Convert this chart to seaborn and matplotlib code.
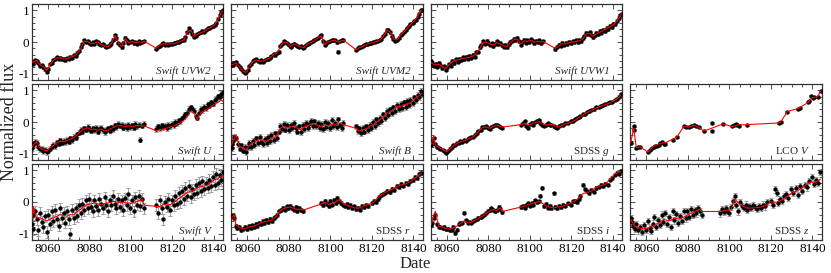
import matplotlib
matplotlib.use("Agg")
import matplotlib.pyplot as plt
import seaborn as sns
from matplotlib.ticker import MultipleLocator

# ---------------- Swift (all bands share the same epochs) ----------------
swift_t = [8052.4, 8052.7, 8052.9, 8053.7, 8054.5, 8055.4, 8056.2, 8056.9, 8057.8, 8058.6,
           8059.4, 8060.1, 8060.9, 8061.9, 8062.6, 8063.4, 8064.2, 8065.2, 8065.9, 8066.7,
           8067.6, 8068.4, 8069.2, 8070.1, 8070.8, 8071.6, 8072.6, 8073.3, 8074.1, 8075.0,
           8075.9, 8076.6, 8077.4, 8078.3, 8079.1, 8079.9, 8080.8, 8081.5, 8082.3, 8083.3,
           8084.1, 8084.8, 8085.6, 8086.6, 8087.3, 8088.1, 8089.0, 8089.8, 8090.6, 8091.5,
           8092.3, 8093.0, 8093.9, 8094.8, 8095.5, 8096.3, 8097.3, 8098.0, 8098.8, 8099.7,
           8100.6, 8101.3, 8102.1, 8103.0, 8103.7, 8104.6, 8105.5, 8106.3,
           8112.3, 8113.1, 8113.9, 8114.9, 8115.6, 8116.4, 8117.3, 8118.1, 8118.9, 8119.8,
           8120.6, 8121.3, 8122.2, 8123.1, 8123.8, 8124.6, 8125.6, 8126.3, 8127.1, 8128.0,
           8128.9, 8129.6, 8130.4, 8131.3, 8132.0, 8132.9, 8133.8, 8134.5, 8135.3, 8136.3,
           8137.1, 8137.8, 8138.6, 8139.6, 8140.3, 8141.1, 8142.0, 8142.8, 8143.6, 8144.2]

swift_mt = [8052.4, 8052.9, 8054.5, 8056.2, 8057.8, 8059.4, 8060.9, 8062.6, 8064.2, 8065.9,
            8067.6, 8069.2, 8070.8, 8072.6, 8074.1, 8075.9, 8077.4, 8079.1, 8080.8, 8082.3,
            8084.1, 8085.6, 8087.3, 8089.0, 8090.6, 8092.3, 8093.9, 8095.5, 8097.3, 8098.8,
            8100.6, 8102.1, 8103.7, 8105.5, 8106.3, 8112.3, 8113.9, 8115.6, 8117.3, 8118.9,
            8120.6, 8122.2, 8123.8, 8125.6, 8127.1, 8128.9, 8130.4, 8132.0, 8133.8, 8135.3,
            8137.1, 8138.6, 8140.3, 8142.0, 8143.6, 8144.2]

uvw2_flux = [-0.63, -0.68, -0.62, -0.57, -0.60, -0.66, -0.75, -0.72, -0.80, -0.86,
             -0.95, -0.84, -0.70, -0.66, -0.56, -0.55, -0.48, -0.53, -0.49, -0.55,
             -0.52, -0.58, -0.50, -0.52, -0.46, -0.49, -0.42, -0.44, -0.33, -0.28,
             -0.15, -0.06, 0.05, 0.01, 0.04, -0.02, -0.07, -0.01, -0.05, 0.03,
             0.00, -0.05, -0.10, -0.07, -0.13, -0.16, -0.14, -0.08, -0.04, 0.08,
             0.22, 0.12, -0.03, -0.10, -0.17, -0.02, 0.14, 0.06, -0.03, 0.01,
             0.03, -0.04, -0.01, -0.05, 0.02, -0.02, 0.00, 0.04,
             -0.21, -0.16, -0.11, -0.07, -0.04, -0.08, -0.06, -0.09, -0.05, -0.07,
             -0.04, -0.03, -0.01, 0.00, 0.03, 0.05, 0.08, 0.15, 0.31, 0.43,
             0.36, 0.25, 0.17, 0.19, 0.25, 0.28, 0.31, 0.36, 0.33, 0.39,
             0.44, 0.43, 0.47, 0.50, 0.55, 0.60, 0.74, 0.86, 0.95, 1.00]
uvw2_model = [-0.62, -0.64, -0.58, -0.72, -0.78, -0.90, -0.72, -0.58, -0.50, -0.50,
              -0.54, -0.53, -0.48, -0.44, -0.36, -0.18, 0.03, 0.02, -0.05, -0.04,
              0.01, -0.08, -0.12, -0.15, -0.05, 0.20, -0.02, -0.15, 0.12, -0.02,
              0.02, -0.02, 0.01, -0.01, 0.03, -0.20, -0.10, -0.05, -0.07, -0.06,
              -0.05, -0.02, 0.02, 0.07, 0.30, 0.38, 0.18, 0.24, 0.30, 0.33,
              0.42, 0.46, 0.54, 0.72, 0.94, 0.98]
uvw2_err = 0.04

uvm2_flux = [-0.70, -0.74, -0.71, -0.66, -0.64, -0.72, -0.79, -0.85, -0.93, -0.98,
             -0.95, -0.88, -0.76, -0.70, -0.61, -0.58, -0.54, -0.59, -0.62, -0.57,
             -0.62, -0.56, -0.53, -0.55, -0.49, -0.45, -0.39, -0.42, -0.35, -0.30,
             -0.13, -0.06, 0.02, -0.01, -0.04, -0.10, -0.15, -0.08, -0.05, -0.09,
             -0.11, -0.16, -0.14, -0.19, -0.17, -0.10, -0.05, -0.04, 0.00, 0.03,
             0.06, 0.10, 0.13, 0.18, 0.21, 0.02, -0.09, -0.04, 0.01, 0.03,
             0.05, 0.07, 0.05, -0.01, -0.30, 0.03, 0.05, 0.07,
             -0.25, -0.20, -0.17, -0.15, -0.12, -0.10, -0.07, -0.06, -0.03, -0.04,
             -0.01, 0.01, 0.03, 0.04, 0.07, 0.10, 0.19, 0.27, 0.39, 0.37,
             0.31, 0.20, 0.09, 0.03, 0.07, 0.14, 0.23, 0.27, 0.33, 0.38,
             0.45, 0.50, 0.56, 0.60, 0.66, 0.71, 0.80, 0.90, 1.01, 1.00]
uvm2_model = [-0.70, -0.72, -0.66, -0.78, -0.92, -0.96, -0.78, -0.62, -0.56, -0.60,
              -0.60, -0.55, -0.50, -0.40, -0.36, -0.15, 0.00, -0.02, -0.14, -0.06,
              -0.10, -0.15, -0.18, -0.06, -0.02, 0.05, 0.12, 0.20, -0.08, 0.00,
              0.04, 0.06, 0.00, 0.04, 0.06, -0.24, -0.18, -0.14, -0.08, -0.04,
              -0.02, 0.02, 0.06, 0.18, 0.38, 0.32, 0.10, 0.06, 0.22, 0.32,
              0.44, 0.55, 0.66, 0.80, 1.00, 1.00]
uvm2_err = 0.04

uvw1_flux = [-0.60, -0.70, -0.65, -0.75, -0.68, -0.78, -0.66, -0.74, -0.82, -0.76,
             -0.88, -0.80, -0.70, -0.75, -0.60, -0.66, -0.55, -0.62, -0.52, -0.58,
             -0.48, -0.55, -0.46, -0.52, -0.44, -0.50, -0.40, -0.46, -0.32, -0.30,
             -0.16, -0.10, 0.02, -0.05, 0.04, -0.03, -0.09, -0.04, -0.13, -0.06,
             0.02, -0.07, -0.02, -0.10, -0.15, -0.09, -0.17, -0.06, 0.00, 0.04,
             0.10, 0.05, 0.13, 0.02, -0.08, 0.00, 0.07, -0.02, 0.05, 0.00,
             0.09, 0.03, -0.03, 0.04, 0.00, 0.05, -0.03, 0.03,
             -0.22, -0.15, -0.09, -0.12, -0.02, -0.08, -0.03, -0.07, 0.01, -0.04,
             0.03, -0.01, 0.05, 0.00, 0.07, 0.03, 0.12, 0.18, 0.29, 0.24,
             0.31, 0.22, 0.15, 0.22, 0.29, 0.24, 0.35, 0.30, 0.39, 0.34,
             0.46, 0.41, 0.52, 0.47, 0.58, 0.56, 0.68, 0.76, 0.85, 0.90]
uvw1_model = [-0.64, -0.68, -0.72, -0.70, -0.78, -0.84, -0.72, -0.62, -0.58, -0.55,
              -0.52, -0.50, -0.48, -0.44, -0.36, -0.20, -0.02, 0.00, -0.06, -0.10,
              -0.02, -0.06, -0.12, -0.14, -0.02, 0.08, 0.10, -0.06, 0.04, 0.02,
              0.06, 0.00, 0.02, 0.00, 0.02, -0.20, -0.12, -0.05, -0.06, -0.02,
              0.00, 0.02, 0.04, 0.10, 0.26, 0.28, 0.18, 0.26, 0.32, 0.36,
              0.44, 0.48, 0.55, 0.66, 0.82, 0.88]
uvw1_err = 0.05

u_flux = [-0.82, -0.74, -0.70, -0.62, -0.66, -0.80, -0.86, -0.84, -0.92, -0.88,
          -0.96, -0.90, -0.84, -0.78, -0.72, -0.76, -0.64, -0.68, -0.58, -0.66,
          -0.60, -0.64, -0.56, -0.62, -0.52, -0.58, -0.46, -0.50, -0.38, -0.34,
          -0.25, -0.30, -0.20, -0.24, -0.15, -0.22, -0.28, -0.20, -0.26, -0.18,
          -0.30, -0.22, -0.18, -0.26, -0.32, -0.24, -0.20, -0.28, -0.16, -0.22,
          -0.10, -0.16, -0.06, -0.12, -0.08, -0.18, -0.12, -0.20, -0.08, -0.16,
          -0.10, -0.18, -0.06, -0.14, -0.08, -0.56, -0.12, -0.06,
          -0.22, -0.14, -0.20, -0.10, -0.16, -0.12, -0.20, -0.08, -0.14, -0.06,
          -0.10, 0.00, -0.04, 0.06, 0.02, 0.12, 0.18, 0.24, 0.30, 0.42,
          0.46, 0.40, 0.36, 0.20, 0.14, 0.30, 0.42, 0.38, 0.48, 0.44,
          0.56, 0.52, 0.62, 0.58, 0.70, 0.74, 0.82, 0.78, 0.90, 0.94]
u_model = [-0.80, -0.72, -0.62, -0.82, -0.88, -0.92, -0.82, -0.74, -0.66, -0.60,
           -0.62, -0.58, -0.55, -0.48, -0.40, -0.28, -0.22, -0.18, -0.24, -0.22,
           -0.26, -0.22, -0.28, -0.25, -0.20, -0.14, -0.10, -0.12, -0.15, -0.12,
           -0.14, -0.12, -0.10, -0.13, -0.12, -0.28, -0.24, -0.22, -0.19, -0.16,
           -0.12, -0.07, -0.02, 0.06, 0.16, 0.36, 0.30, 0.08, 0.30, 0.36,
           0.42, 0.48, 0.56, 0.62, 0.70, 0.66]
u_err = 0.08

b_flux = [-0.70, -0.82, -0.60, -0.48, -0.52, -0.70, -0.84, -0.74, -0.90, -0.78,
          -0.95, -0.80, -0.66, -0.78, -0.60, -0.72, -0.52, -0.66, -0.48, -0.62,
          -0.70, -0.54, -0.66, -0.48, -0.60, -0.42, -0.56, -0.36, -0.50, -0.30,
          -0.12, -0.22, -0.06, -0.24, -0.10, -0.26, -0.08, -0.20, -0.04, -0.18,
          -0.30, -0.14, -0.32, -0.10, -0.22, -0.02, -0.18, -0.06, 0.04, -0.12,
          0.02, -0.14, -0.04, -0.20, -0.06, -0.22, 0.00, -0.16, -0.04, -0.18,
          0.06, -0.12, -0.02, -0.16, 0.08, -0.08, -0.18, -0.02,
          -0.14, -0.28, -0.20, -0.34, -0.18, -0.30, -0.14, -0.26, -0.08, -0.18,
          0.00, -0.12, 0.08, -0.04, 0.14, 0.02, 0.24, 0.12, 0.34, 0.22,
          0.40, 0.28, 0.46, 0.34, 0.54, 0.42, 0.58, 0.44, 0.62, 0.48,
          0.66, 0.54, 0.70, 0.60, 0.78, 0.70, 0.86, 0.80, 0.98, 0.88]
b_model = [-0.72, -0.62, -0.40, -0.76, -0.82, -0.87, -0.74, -0.66, -0.60, -0.55,
           -0.58, -0.61, -0.55, -0.50, -0.45, -0.20, -0.14, -0.19, -0.15, -0.14,
           -0.20, -0.24, -0.16, -0.13, -0.06, -0.04, -0.12, -0.14, -0.09, -0.12,
           -0.08, -0.10, -0.03, -0.06, -0.08, -0.20, -0.29, -0.24, -0.22, -0.14,
           -0.08, 0.00, 0.07, 0.18, 0.28, 0.33, 0.40, 0.49, 0.50, 0.54,
           0.56, 0.62, 0.72, 0.80, 0.88, 0.90]
b_err = 0.09

v_flux = [-0.70, -0.40, -0.85, -0.30, -0.55, -0.90, -0.35, -0.62, -0.80, -0.45,
          -0.95, -0.40, -0.70, -0.30, -0.60, -0.25, -0.55, -0.75, -0.20, -0.50,
          -0.35, -0.65, -0.30, -0.55, -1.00, -0.25, -0.50, -0.20, -0.45, -0.10,
          -0.35, -0.05, -0.25, 0.05, -0.20, 0.10, -0.15, -0.30, 0.05, -0.12,
          -0.25, 0.10, -0.05, -0.20, 0.15, -0.08, -0.30, 0.05, -0.10, 0.20,
          -0.05, -0.20, 0.10, -0.15, 0.05, -0.25, 0.12, -0.10, 0.25, -0.20,
          0.05, -0.30, 0.15, -0.08, 0.20, -0.12, 0.10, -0.20,
          -0.10, -0.35, 0.05, -0.20, -0.55, 0.00, -0.15, 0.10, -0.25, 0.05,
          -0.10, 0.20, -0.05, 0.30, 0.00, 0.35, 0.10, 0.45, 0.20, 0.50,
          0.15, 0.40, 0.25, 0.55, 0.30, 0.60, 0.35, 0.65, 0.40, 0.60,
          0.45, 0.70, 0.50, 0.80, 0.55, 0.90, 0.60, 0.85, 0.70, 0.95]
v_model = [-0.48, -0.14, -0.50, -0.50, -0.55, -0.60, -0.55, -0.50, -0.46, -0.40,
           -0.43, -0.45, -0.40, -0.40, -0.30, -0.22, -0.14, -0.08, -0.06, -0.03,
           -0.06, -0.08, -0.05, -0.03, 0.00, 0.02, -0.01, -0.03, -0.02, -0.03,
           -0.04, 0.00, 0.04, 0.08, -0.10, -0.14, -0.14, -0.08, -0.10, -0.08,
           -0.02, 0.06, 0.14, 0.23, 0.30, 0.34, 0.38, 0.44, 0.49, 0.50,
           0.54, 0.62, 0.70, 0.74, 0.82, 0.85]
v_err = 0.18

# ---------------- SDSS g r i z (shared epochs) ----------------
sdss_t = [8052.5, 8052.9, 8053.6, 8054.4, 8055.2, 8056.0, 8056.9, 8057.9, 8058.8, 8059.7,
          8060.6, 8061.6, 8062.4, 8063.1, 8063.9, 8064.8, 8065.7, 8066.5, 8067.3, 8068.2,
          8069.1, 8070.0, 8070.8, 8071.8, 8072.7, 8073.5, 8074.4, 8075.2, 8076.2, 8077.1,
          8078.0, 8078.9, 8079.7, 8080.6, 8081.4, 8082.3, 8083.3, 8084.1, 8085.0, 8085.8,
          8086.7,
          8095.7, 8096.5, 8097.5, 8098.3, 8099.1, 8099.9, 8100.9, 8101.7, 8102.5, 8103.3,
          8104.3, 8105.1, 8106.0, 8106.9, 8107.9, 8108.7, 8109.6, 8110.4, 8111.4, 8112.3,
          8113.2, 8114.1, 8115.1, 8116.1, 8117.1, 8118.2,
          8120.0, 8120.9, 8121.9, 8122.8, 8123.6, 8124.4, 8125.4, 8126.4, 8127.4, 8128.5,
          8129.7, 8130.8, 8131.9, 8133.1, 8134.1, 8135.2, 8136.4, 8137.5, 8138.6, 8139.8,
          8140.8, 8141.8, 8142.9, 8143.9]
sdss_mt = [8052.5, 8053.6, 8054.4, 8056.0, 8057.9, 8059.7, 8061.6, 8063.1, 8064.8, 8066.5,
           8068.2, 8070.0, 8071.8, 8073.5, 8075.2, 8077.1, 8078.9, 8080.6, 8082.3, 8084.1,
           8085.8, 8086.7, 8095.7, 8097.5, 8099.1, 8100.9, 8102.5, 8104.3, 8106.0, 8107.9,
           8109.6, 8111.4, 8113.2, 8115.1, 8117.1, 8120.0, 8121.9, 8123.6, 8125.4, 8127.4,
           8129.7, 8131.9, 8134.1, 8136.4, 8138.6, 8140.8, 8142.9, 8143.9]

g_flux = [-0.72, -0.60, -0.50, -0.70, -0.78, -0.82, -0.84, -0.88, -0.90, -0.97,
          -0.92, -0.84, -0.80, -0.74, -0.72, -0.66, -0.66, -0.60, -0.62, -0.58,
          -0.60, -0.53, -0.52, -0.48, -0.47, -0.40, -0.36, -0.28, -0.24, -0.16,
          -0.17, -0.13, -0.19, -0.22, -0.16, -0.12, -0.10, -0.08, -0.13, -0.15,
          -0.18,
          -0.10, -0.04, 0.02, -0.12, -0.18, -0.06, -0.02, -0.08, 0.00, 0.04,
          0.06, -0.04, -0.08, -0.12, -0.08, -0.04, -0.10, -0.08, -0.14, -0.16,
          -0.18, -0.12, -0.10, -0.08, -0.04, -0.02,
          0.02, 0.04, 0.08, 0.12, 0.16, 0.18, 0.24, 0.26, 0.32, 0.34,
          0.38, 0.40, 0.46, 0.48, 0.52, 0.54, 0.56, 0.60, 0.62, 0.64,
          0.70, 0.74, 0.80, 0.88]
g_model = [-0.70, -0.45, -0.72, -0.80, -0.86, -0.95, -0.85, -0.76, -0.68, -0.62,
           -0.60, -0.55, -0.50, -0.42, -0.30, -0.18, -0.15, -0.20, -0.14, -0.10,
           -0.14, -0.16, -0.08, -0.04, -0.10, -0.06, -0.02, 0.02, -0.06, -0.10,
           -0.06, -0.10, -0.16, -0.12, -0.06, 0.00, 0.06, 0.14, 0.22, 0.30,
           0.36, 0.44, 0.50, 0.55, 0.60, 0.68, 0.78, 0.86]
g_err = 0.04

r_flux = [-0.45, -0.42, -0.50, -0.75, -0.82, -0.78, -0.88, -0.84, -0.80, -0.86,
          -0.76, -0.82, -0.74, -0.78, -0.70, -0.76, -0.66, -0.70, -0.60, -0.66,
          -0.58, -0.64, -0.54, -0.60, -0.50, -0.46, -0.40, -0.30, -0.26, -0.18,
          -0.24, -0.14, -0.20, -0.12, -0.18, -0.24, -0.16, -0.28, -0.20, -0.26,
          -0.30,
          -0.02, -0.10, 0.04, -0.06, -0.14, 0.02, -0.08, 0.06, -0.04, 0.12,
          0.04, -0.02, -0.08, -0.12, -0.06, -0.16, -0.10, -0.20, -0.14, -0.22,
          -0.18, -0.24, -0.12, -0.16, -0.08, -0.12,
          -0.02, 0.04, 0.00, 0.10, 0.16, 0.22, 0.26, 0.30, 0.36, 0.32,
          0.42, 0.38, 0.50, 0.46, 0.56, 0.52, 0.60, 0.56, 0.66, 0.70,
          0.80, 0.76, 0.88, 0.92]
r_model = [-0.50, -0.40, -0.72, -0.80, -0.86, -0.82, -0.78, -0.76, -0.72, -0.66,
           -0.62, -0.60, -0.56, -0.48, -0.32, -0.22, -0.18, -0.16, -0.20, -0.24,
           -0.22, -0.26, -0.06, -0.02, -0.08, -0.04, 0.00, 0.08, -0.04, -0.10,
           -0.14, -0.18, -0.20, -0.16, -0.10, -0.04, 0.06, 0.18, 0.26, 0.34,
           0.40, 0.48, 0.54, 0.58, 0.64, 0.76, 0.86, 0.90]
r_err = 0.06

i_flux = [-0.72, -0.66, -0.50, -0.40, -0.70, -0.78, -0.80, -0.82, -0.78, -0.86,
          -0.84, -0.90, -0.88, -0.78, -0.98, -0.88, -0.70, -0.66, -0.66, -0.34,
          -0.58, -0.66, -0.62, -0.66, -0.60, -0.56, -0.54, -0.50, -0.48, -0.44,
          -0.40, -0.34, -0.28, -0.26, -0.20, -0.24, -0.30, -0.26, -0.16, -0.22,
          -0.32,
          -0.16, -0.12, -0.18, -0.10, -0.04, -0.12, -0.02, -0.08, 0.06, 0.00,
          0.02, 0.20, 0.45, -0.14, -0.06, -0.18, -0.12, -0.20, 0.28, -0.16,
          -0.20, -0.12, -0.16, -0.08, -0.12, -0.04,
          -0.08, 0.02, 0.04, 0.00, 0.08, 0.20, 0.55, 0.40, 0.34, 0.28,
          0.38, 0.32, 0.44, 0.48, 0.54, 0.50, 0.58, 0.54, 0.70, 0.76,
          0.86, 0.92, 0.90, 0.98]
i_model = [-0.71, -0.45, -0.29, -0.76, -0.80, -0.84, -0.86, -0.81, -0.76, -0.68,
           -0.60, -0.64, -0.64, -0.58, -0.52, -0.45, -0.36, -0.28, -0.24, -0.26,
           -0.18, -0.30, -0.16, -0.14, -0.08, -0.05, -0.02, 0.02, -0.04, -0.12,
           -0.16, -0.19, -0.16, -0.14, -0.10, -0.02, 0.04, 0.12, 0.26, 0.30,
           0.35, 0.46, 0.52, 0.56, 0.72, 0.88, 0.94, 0.96]
i_err = 0.05

z_flux = [-0.50, -0.62, -0.75, -0.85, -0.70, -0.90, -0.78, -0.95, -0.72, -0.88,
          -0.60, -0.82, -0.92, -0.68, -0.48, -0.80, -0.56, -0.72, -0.40, -0.62,
          -0.35, -0.70, -0.48, -0.78, -0.30, -0.58, -0.38, -0.66, -0.44, -0.60,
          -0.28, -0.52, -0.30, -0.46, -0.22, -0.40, -0.26, -0.36, -0.18, -0.30,
          -0.40,
          -0.36, -0.22, -0.32, -0.18, -0.28, -0.34, -0.16, 0.04, 0.18, -0.10,
          -0.30, 0.00, -0.12, -0.20, -0.08, -0.24, -0.14, -0.20, -0.10, -0.16,
          -0.22, -0.12, -0.18, -0.08, -0.14, 0.00,
          0.02, -0.08, 0.40, 0.28, -0.02, 0.10, 0.04, 0.18, 0.24, 0.14,
          0.40, 0.30, 0.44, 0.22, 0.50, 0.36, 0.54, 0.46, 0.66, 0.80,
          0.56, 0.68, 0.60, 0.95]
z_model = [-0.55, -0.70, -0.78, -0.81, -0.84, -0.86, -0.80, -0.76, -0.70, -0.64,
           -0.55, -0.58, -0.58, -0.50, -0.54, -0.50, -0.45, -0.38, -0.34, -0.28,
           -0.22, -0.30, -0.30, -0.28, -0.26, -0.24, 0.10, -0.02, -0.10, -0.18,
           -0.19, -0.19, -0.18, -0.16, -0.12, 0.02, -0.03, 0.02, 0.07, 0.16,
           0.26, 0.33, 0.40, 0.52, 0.62, 0.62, 0.68, 0.72]
z_err = 0.10

# ---------------- LCO V ----------------
lco_t = [8052.6, 8053.9, 8054.0, 8055.1, 8055.9, 8057.1, 8060.8, 8061.9, 8062.8, 8063.6,
         8064.3, 8065.2, 8066.0, 8066.8, 8067.6, 8068.4, 8069.2, 8072.9, 8074.8, 8078.0,
         8079.3, 8080.5, 8081.7, 8082.9, 8084.0, 8085.3, 8087.7, 8091.7, 8091.8, 8096.9,
         8101.4, 8102.3, 8103.1, 8103.9, 8104.7, 8108.7, 8123.9, 8124.7, 8128.0, 8133.1,
         8134.0, 8137.7, 8138.3, 8139.3, 8140.1, 8140.9, 8142.5, 8144.1]
lco_flux = [-0.66, -0.14, -0.25, -0.81, -0.78, -0.79, -0.95, -0.88, -0.81, -0.79,
            -0.76, -0.77, -0.72, -0.66, -0.64, -0.68, -0.70, -0.56, -0.47, -0.14,
            -0.15, -0.16, -0.14, -0.10, -0.13, -0.17, -0.29, -0.02, -0.28, -0.06,
            -0.14, -0.10, -0.06, -0.09, -0.11, -0.08, -0.03, 0.00, 0.33, 0.40,
            0.44, 0.62, 0.68, 0.82, 0.76, 0.78, 0.80, 0.99]
lco_mt = [8052.4, 8053.9, 8055.1, 8057.1, 8060.8, 8063.5, 8067.6, 8069.2, 8074.8, 8078.0,
          8080.5, 8082.9, 8085.3, 8087.7, 8091.7, 8096.9, 8101.4, 8104.7, 8108.7, 8123.9,
          8124.7, 8128.0, 8133.6, 8138.0, 8139.3, 8140.9, 8142.5, 8144.2]
lco_model = [-0.66, -0.19, -0.81, -0.79, -0.95, -0.76, -0.66, -0.66, -0.47, -0.14,
             -0.16, -0.10, -0.17, -0.29, -0.19, -0.06, -0.14, -0.09, -0.08, -0.03,
             0.00, 0.33, 0.44, 0.62, 0.75, 0.78, 0.80, 0.99]
lco_err = 0.03


def draw_panel(ax, t, flux, err, mt, model, label, italic):
    ax.errorbar(t, flux, yerr=err, fmt="none", ecolor="#a0a0a0",
                elinewidth=0.8, capsize=1.2, capthick=0.7, zorder=2)
    sns.scatterplot(x=t, y=flux, ax=ax, color="black", s=10, linewidth=0, zorder=3)
    sns.lineplot(x=mt, y=model, ax=ax, color="red", lw=0.8, sort=False,
                 estimator=None, zorder=4)
    ax.text(0.935, 0.085, label, transform=ax.transAxes, ha="right", va="baseline",
            fontsize=8, fontstyle="italic" if italic else "normal")
    ax.set_xlabel("")
    ax.set_ylabel("")


sns.set_theme(style="ticks")
plt.rcParams["font.family"] = ["Liberation Serif", "DejaVu Serif"]
plt.rcParams["mathtext.fontset"] = "custom"
plt.rcParams["mathtext.rm"] = "Liberation Serif"
plt.rcParams["mathtext.it"] = "Liberation Serif:italic"
plt.rcParams["axes.unicode_minus"] = False

fig, axes = plt.subplots(3, 4, figsize=(8.31, 2.73), dpi=100, sharex=True, sharey=True)
fig.subplots_adjust(left=0.0385, right=0.989, top=0.985, bottom=0.121,
                    wspace=0.042, hspace=0.053)

panels = [
    (axes[0, 0], swift_t, uvw2_flux, uvw2_err, swift_mt, uvw2_model, "Swift UVW2", True),
    (axes[0, 1], swift_t, uvm2_flux, uvm2_err, swift_mt, uvm2_model, "Swift UVM2", True),
    (axes[0, 2], swift_t, uvw1_flux, uvw1_err, swift_mt, uvw1_model, "Swift UVW1", True),
    (axes[1, 0], swift_t, u_flux, u_err, swift_mt, u_model, "Swift U", True),
    (axes[1, 1], swift_t, b_flux, b_err, swift_mt, b_model, "Swift B", True),
    (axes[1, 2], sdss_t, g_flux, g_err, sdss_mt, g_model, "SDSS $g$", False),
    (axes[1, 3], lco_t, lco_flux, lco_err, lco_mt, lco_model, "LCO $V$", False),
    (axes[2, 0], swift_t, v_flux, v_err, swift_mt, v_model, "Swift V", True),
    (axes[2, 1], sdss_t, r_flux, r_err, sdss_mt, r_model, "SDSS $r$", False),
    (axes[2, 2], sdss_t, i_flux, i_err, sdss_mt, i_model, "SDSS $i$", False),
    (axes[2, 3], sdss_t, z_flux, z_err, sdss_mt, z_model, "SDSS $z$", False),
]
for p in panels:
    draw_panel(*p)

for ax in axes.flat:
    ax.set_xlim(8052.3, 8144.6)
    ax.set_ylim(-1.2, 1.2)
    ax.xaxis.set_major_locator(MultipleLocator(20))
    ax.xaxis.set_minor_locator(MultipleLocator(5))
    ax.yaxis.set_major_locator(MultipleLocator(1))
    ax.yaxis.set_minor_locator(MultipleLocator(0.2))
    ax.tick_params(which="both", direction="in", top=True, right=True,
                   width=0.6, colors="#333333", labelcolor="black", labelsize=9.5)
    ax.tick_params(which="major", length=3.5, pad=2)
    ax.tick_params(which="minor", length=2)
    for s in ax.spines.values():
        s.set_linewidth(0.9)
        s.set_color("#333333")

axes[0, 3].set_visible(False)

fig.text(0.4995, 0.02, "Date", ha="center", va="baseline", fontsize=12)
fig.text(0.012, 0.553, "Normalized flux", ha="center", va="center",
         rotation=90, fontsize=13)

fig.savefig("out.png", dpi=100)
